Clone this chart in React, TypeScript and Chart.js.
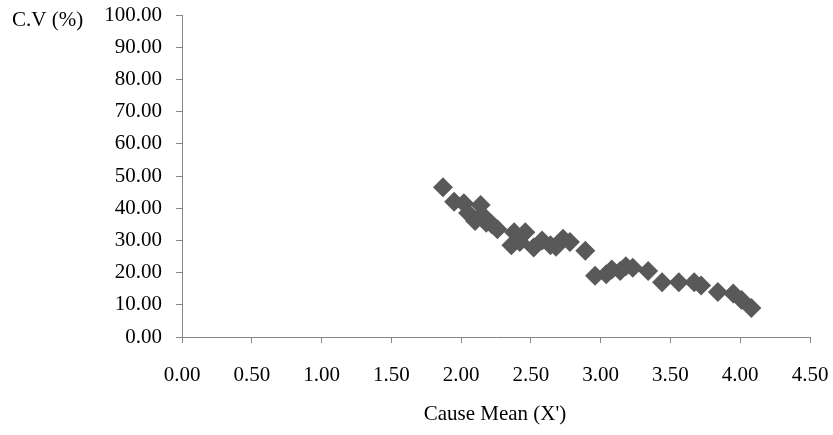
import React, { useEffect, useRef } from "react";
import { Chart, registerables } from "chart.js";

Chart.register(...registerables);

const causeMean: number[] = [
  1.87, 1.95, 2.02, 2.05, 2.10, 2.14, 2.15, 2.18, 2.22, 2.26,
  2.36, 2.38, 2.42, 2.46, 2.52, 2.58, 2.64, 2.68, 2.73, 2.78,
  2.89, 2.96, 3.04, 3.08, 3.14, 3.18, 3.23, 3.34, 3.44, 3.56,
  3.67, 3.72, 3.84, 3.95, 4.01, 4.08,
];
const cvPercent: number[] = [
  46.5, 42.0, 41.5, 38.5, 36.0, 41.0, 38.0, 35.5, 35.0, 33.5,
  28.5, 32.5, 29.5, 32.5, 27.8, 30.0, 28.5, 28.0, 30.5, 29.5,
  26.8, 19.0, 19.5, 21.0, 20.5, 22.0, 21.5, 20.5, 17.0, 17.0,
  17.0, 16.0, 14.0, 13.5, 11.5, 9.0,
];

const yTitle = "C.V (%)";
const xTitle = "Cause Mean (X')";

const FONT = "'Liberation Serif', 'Times New Roman', serif";

export default function App() {
  const ref = useRef<HTMLCanvasElement | null>(null);
  useEffect(() => {
    if (!ref.current) return;
    const titles = {
      id: "titles",
      afterDraw(chart: any) {
        const ctx = chart.ctx;
        ctx.save();
        ctx.fillStyle = "#000";
        ctx.font = `21px ${FONT}`;
        ctx.textBaseline = "middle";
        ctx.textAlign = "left";
        ctx.fillText(yTitle, 12, 20);
        ctx.textAlign = "center";
        ctx.fillText(xTitle, 495, 414);
        ctx.restore();
      },
    };
    const chart = new Chart(ref.current, {
      type: "scatter",
      data: {
        datasets: [
          {
            data: causeMean.map((x, i) => ({ x, y: cvPercent[i] })),
            pointStyle: "rectRot",
            pointRadius: 10,
            pointBackgroundColor: "#595959",
            pointBorderColor: "#595959",
            pointBorderWidth: 0,
          },
        ],
      },
      options: {
        animation: false,
        responsive: false,
        layout: { padding: { left: 0, right: 23, top: 15, bottom: 0 } },
        plugins: { legend: { display: false }, tooltip: { enabled: false } },
        scales: {
          x: {
            type: "linear",
            min: 0,
            max: 4.5,
            afterFit: (s: any) => {
              s.height = 98;
              s.paddingLeft = 0;
              s.paddingRight = 0;
            },
            border: { color: "#868686", width: 1 },
            grid: { drawOnChartArea: false, drawTicks: true, tickLength: 6, color: "#868686" },
            ticks: {
              stepSize: 0.5,
              padding: 20,
              color: "#000",
              font: { family: FONT, size: 21 },
              callback: (v: any) => Number(v).toFixed(2),
            },
          },
          y: {
            type: "linear",
            min: 0,
            max: 100,
            afterFit: (s: any) => {
              s.width = 182;
              s.paddingTop = 0;
              s.paddingBottom = 0;
            },
            border: { color: "#868686", width: 1 },
            grid: { drawOnChartArea: false, drawTicks: true, tickLength: 6, color: "#868686" },
            ticks: {
              stepSize: 10,
              padding: 14,
              color: "#000",
              font: { family: FONT, size: 21 },
              callback: (v: any) => Number(v).toFixed(2),
            },
          },
        },
      },
      plugins: [titles],
    });
    return () => chart.destroy();
  }, []);
  return (
    <div style={{ position: "fixed", left: 0, top: 0, width: 833, height: 435, background: "#fff" }}>
      <canvas ref={ref} width={833} height={435} />
    </div>
  );
}
